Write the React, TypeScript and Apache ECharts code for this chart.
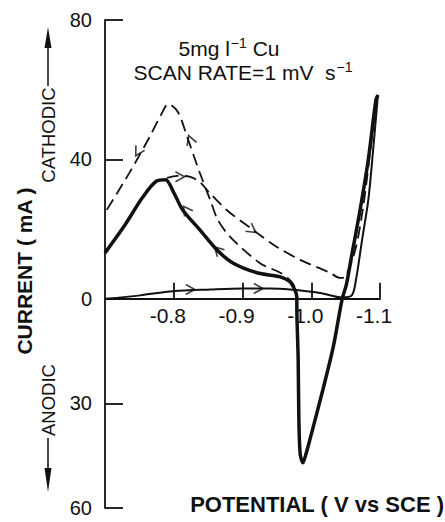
import React, { useEffect, useRef } from 'react';
import * as echarts from 'echarts';

const FONT = "'Liberation Sans', Arial, Helvetica, sans-serif";

const xTicks = [-0.8, -0.9, -1.0, -1.1];
const yTicks = [80, 40, 0, -30, -60];

// first sweep (thin solid): toward negative potential
const fwd1V = [-0.7, -0.751, -0.799, -0.853, -0.901, -0.94, -0.969, -1.013, -1.045, -1.059, -1.065, -1.074, -1.083, -1.09, -1.097];
const fwd1I = [0.0, 1.0, 2.2, 2.7, 3.0, 3.0, 2.7, 1.7, 0.4, 1.0, 5.4, 17, 28.4, 42.7, 58.5];

// first return sweep (thick solid) incl. anodic stripping peak
const rev1V = [-1.097, -1.094, -1.083, -1.071, -1.059, -1.051, -1.045, -1.032, -1.017, -0.998, -0.992, -0.988, -0.984, -0.982, -0.981, -0.979, -0.979, -0.976, -0.969, -0.955, -0.921, -0.886, -0.863, -0.838, -0.813, -0.8, -0.788, -0.775, -0.755, -0.729, -0.7];
const rev1I = [58.5, 57, 40, 25.5, 12.6, 4, 0, -13.8, -26, -40.4, -44.7, -47, -44.7, -34.7, -17.5, -1.7, 0.6, 2.6, 4.9, 6.3, 7.5, 10.3, 14, 19.8, 25.5, 30.5, 34.2, 33.8, 29.2, 21.2, 13.2];

// second sweep (dashed, small hump)
const fwd2V = [-0.79, -0.805, -0.824, -0.838, -0.848, -0.877, -0.911, -0.95, -0.984, -1.027, -1.042, -1.049, -1.064, -1.076, -1.086, -1.095];
const fwd2I = [34.7, 35.3, 35.0, 33.5, 31.3, 25.5, 20.4, 14.9, 11.2, 7.5, 6.0, 6.3, 14, 27, 42.7, 57];

// second return sweep (dashed, large peak)
const rev2V = [-0.976, -0.969, -0.955, -0.925, -0.882, -0.864, -0.853, -0.838, -0.821, -0.806, -0.792, -0.782, -0.765, -0.735, -0.7];
const rev2I = [3.5, 5.4, 7.5, 10.3, 17.8, 22.7, 28.4, 36.1, 45.6, 53.6, 55.9, 53, 46.5, 36, 24.7];

// direction arrows: [potential, current, angle in degrees]
const arrowV = [-0.824, -0.923, -0.818, -0.864, -0.748, -0.824, -0.809, -0.914];
const arrowI = [2.7, 3.0, 25.5, 14, 42.2, 45.6, 35.0, 19.8];
const arrowA = [0, 0, 125, 135, 240, 110, 0, -36];

const zip = (v: number[], i: number[]) => v.map((x, k) => [x, i[k]]);

export default function App() {
  const ref = useRef<HTMLDivElement>(null);
  useEffect(() => {
    const chart = echarts.init(ref.current!, null, { renderer: 'svg' });
    const black = '#111';
    chart.setOption({
      animation: false,
      backgroundColor: '#fff',
      grid: { left: 105, right: 65, top: 20, bottom: 14, containLabel: false, outerBoundsMode: 'none' },
      xAxis: {
        type: 'value',
        min: -1.1,
        max: -0.7,
        inverse: true,
        splitLine: { show: false },
        axisLine: { onZero: true, lineStyle: { color: black, width: 1.8 } },
        axisTick: { inside: true, length: 16, customValues: xTicks, lineStyle: { color: black, width: 1.8 } },
        axisLabel: {
          customValues: xTicks,
          formatter: (v: number) => v.toFixed(1),
          color: black,
          fontSize: 21,
          fontFamily: FONT,
          margin: -203,
          padding: [0, 12, 0, 0],
        },
      },
      yAxis: {
        type: 'value',
        min: -60,
        max: 80,
        splitLine: { show: false },
        axisLine: { lineStyle: { color: black, width: 1.8 } },
        axisTick: { inside: true, length: 18, customValues: yTicks, lineStyle: { color: black, width: 1.8 } },
        axisLabel: {
          customValues: yTicks,
          formatter: (v: number) => String(Math.abs(v)),
          color: black,
          fontSize: 20,
          fontFamily: FONT,
          margin: 13,
        },
      },
      series: [
        {
          type: 'line', data: zip(fwd1V, fwd1I), showSymbol: false, smooth: 0.3,
          lineStyle: { color: black, width: 2 },
        },
        {
          type: 'line', data: zip(rev1V, rev1I), showSymbol: false, smooth: 0.3,
          lineStyle: { color: black, width: 3.5 },
        },
        {
          type: 'line', data: zip(fwd2V, fwd2I), showSymbol: false, smooth: 0.3,
          lineStyle: { color: black, width: 1.8, type: [12, 6] },
        },
        {
          type: 'line', data: zip(rev2V, rev2I), showSymbol: false, smooth: 0.3,
          lineStyle: { color: black, width: 1.8, type: [12, 6] },
        },
        {
          type: 'scatter',
          data: arrowV.map((v, k) => [v, arrowI[k], arrowA[k]]),
          symbol: 'path://M0,0L10,5L0,10',
          symbolSize: [9, 10],
          symbolRotate: (val: number[]) => val[2],
          itemStyle: { color: 'none', borderColor: black, borderWidth: 1.6 },
          z: 5,
        },
      ],
      graphic: [
        {
          type: 'text', x: 229, y: 48,
          style: {
            text: '{a|5mg l}{s|−1}{a| Cu}',
            align: 'center', verticalAlign: 'middle',
            rich: {
              a: { fontSize: 21, fontFamily: FONT, fill: black },
              s: { fontSize: 14, fontFamily: FONT, fill: black, padding: [0, 0, 10, 1] },
            },
          },
        },
        {
          type: 'text', x: 243, y: 72,
          style: {
            text: '{a|SCAN RATE=1 mV  s}{s|−1}',
            align: 'center', verticalAlign: 'middle',
            rich: {
              a: { fontSize: 21, fontFamily: FONT, fill: black },
              s: { fontSize: 14, fontFamily: FONT, fill: black, padding: [0, 0, 10, 1] },
            },
          },
        },
        {
          type: 'text', x: 24, y: 271, rotation: Math.PI / 2,
          style: {
            text: 'CURRENT ( mA )', align: 'center', verticalAlign: 'middle',
            fontSize: 21, fontWeight: 'bold', fontFamily: FONT, fill: black,
          },
        },
        {
          type: 'text', x: 48, y: 135, rotation: Math.PI / 2,
          style: {
            text: 'CATHODIC', align: 'center', verticalAlign: 'middle',
            fontSize: 18.5, fontFamily: FONT, fill: black,
          },
        },
        {
          type: 'text', x: 48, y: 400, rotation: Math.PI / 2,
          style: {
            text: 'ANODIC', align: 'center', verticalAlign: 'middle',
            fontSize: 18.5, fontFamily: FONT, fill: black,
          },
        },
        { type: 'line', shape: { x1: 48, y1: 86, x2: 48, y2: 44 }, style: { stroke: black, lineWidth: 1.5 } },
        { type: 'polygon', shape: { points: [[48, 27], [44.5, 48], [51.5, 48]] }, style: { fill: black } },
        { type: 'line', shape: { x1: 48, y1: 438, x2: 48, y2: 472 }, style: { stroke: black, lineWidth: 1.5 } },
        { type: 'polygon', shape: { points: [[48, 492], [44.5, 468], [51.5, 468]] }, style: { fill: black } },
        {
          type: 'text', x: 444, y: 504,
          style: {
            text: 'POTENTIAL ( V vs SCE )', align: 'right', verticalAlign: 'middle',
            fontSize: 22, fontWeight: 'bold', fontFamily: FONT, fill: black,
          },
        },
      ],
    });
    return () => chart.dispose();
  }, []);
  return <div ref={ref} style={{ position: 'absolute', left: 0, top: 0, width: 445, height: 522 }} />;
}
